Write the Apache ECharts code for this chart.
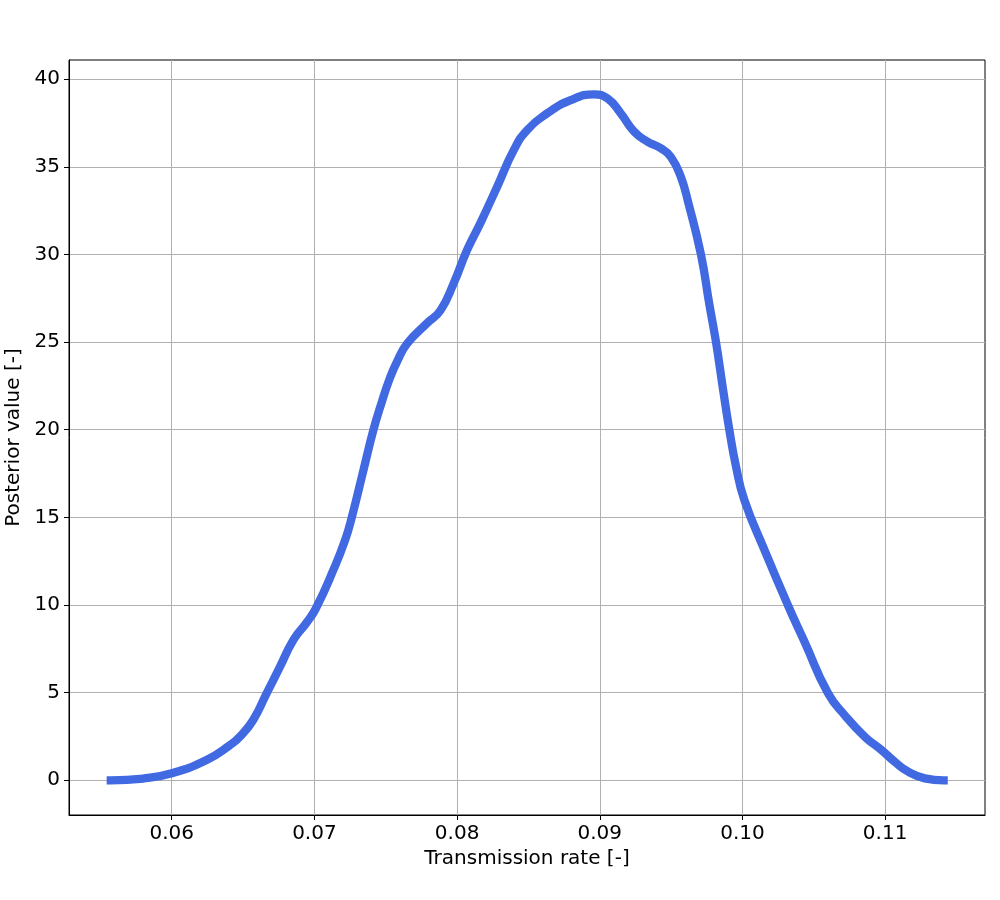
<!DOCTYPE html>
<html>
<head>
<meta charset="utf-8">
<script src="https://cdn.jsdelivr.net/npm/echarts@6/dist/echarts.min.js"></script>
<style>
  html, body { margin: 0; padding: 0; background: #fff; }
  #chart { width: 1000px; height: 900px; }
</style>
</head>
<body>
<div id="chart"></div>
<script>
// transmission rate values
const rates = [
  0.05573, 0.0580, 0.0600, 0.06244, 0.06407, 0.06478, 0.06571, 0.06665,
  0.06759, 0.06852, 0.06946, 0.07010, 0.07133, 0.07215, 0.07262, 0.07344,
  0.07414, 0.07473, 0.07527, 0.07580, 0.07649, 0.07789, 0.07883, 0.07976,
  0.08070, 0.08164, 0.08281, 0.08398, 0.08492, 0.08632, 0.08796, 0.08960,
  0.09054, 0.09147, 0.09241, 0.09335, 0.09428, 0.09498, 0.09568, 0.09622,
  0.09709, 0.09767, 0.09815, 0.09864, 0.09908, 0.09955, 0.10013,
  0.10154, 0.10318, 0.10435, 0.10600, 0.10716, 0.10857, 0.10974, 0.11067,
  0.11162, 0.11278, 0.11410
]
// posterior value at each rate
const posterior = [
  0.0, 0.1, 0.40, 1.16, 2.0, 2.49, 3.44, 4.96,
  6.48, 8.0, 9.0, 9.8, 12.0, 13.7, 15.0, 17.7,
  20.0, 21.6, 22.9, 23.9, 24.9, 26.07, 26.8, 28.35,
  30.25, 31.8, 33.86, 35.96, 37.1, 38.05, 38.8, 39.13,
  38.9, 38.05, 37.0, 36.43, 36.05, 35.57, 34.43, 32.9,
  30.0, 27.2, 24.98, 22.3, 20.0, 17.9, 16.0,
  13.14, 10.0, 7.9, 4.96, 3.72, 2.49, 1.73, 1.06,
  0.49, 0.11, 0.0
]
const xTicks = [0.06, 0.07, 0.08, 0.09, 0.10, 0.11]
const yTicks = [0, 5, 10, 15, 20, 25, 30, 35, 40]

const FONT = 'DejaVu Sans'
const chart = echarts.init(document.getElementById('chart'), null, { renderer: 'canvas' })

const axisCommon = {
  axisLine: { show: true, onZero: false, lineStyle: { color: '#000', width: 1 } },
  axisTick: { show: true, length: 5, lineStyle: { color: '#000', width: 1 } },
  splitLine: { show: true, lineStyle: { color: '#b0b0b0', width: 1 } },
  nameTextStyle: { fontFamily: FONT, fontSize: 20, color: '#000' }
}

chart.setOption({
  animation: false,
  backgroundColor: '#fff',
  grid: {
    left: 69, top: 60, right: 15, bottom: 85,
    outerBoundsMode: 'none',
    containLabel: false,
    show: true, borderColor: '#000', borderWidth: 1, backgroundColor: 'transparent'
  },
  xAxis: {
    ...axisCommon,
    type: 'value',
    min: 0.0528,
    max: 0.1170,
    name: 'Transmission rate [-]',
    nameLocation: 'middle',
    nameGap: 34,
    axisTick: { ...axisCommon.axisTick, customValues: xTicks },
    axisLabel: {
      customValues: xTicks,
      margin: 9,
      fontFamily: FONT, fontSize: 20, color: '#000',
      formatter: v => v.toFixed(2)
    }
  },
  yAxis: {
    ...axisCommon,
    type: 'value',
    min: -1.98,
    max: 41.09,
    name: 'Posterior value [-]',
    nameLocation: 'middle',
    nameGap: 41,
    axisTick: { ...axisCommon.axisTick, customValues: yTicks },
    axisLabel: {
      customValues: yTicks,
      margin: 9,
      fontFamily: FONT, fontSize: 20, color: '#000',
      formatter: v => String(v)
    }
  },
  series: [{
    type: 'line',
    data: rates.map((r, i) => [r, posterior[i]]),
    smooth: 0.5,
    symbol: 'none',
    lineStyle: { color: '#4169E1', width: 8.3, cap: 'square', join: 'round' }
  }]
})
</script>
</body>
</html>
